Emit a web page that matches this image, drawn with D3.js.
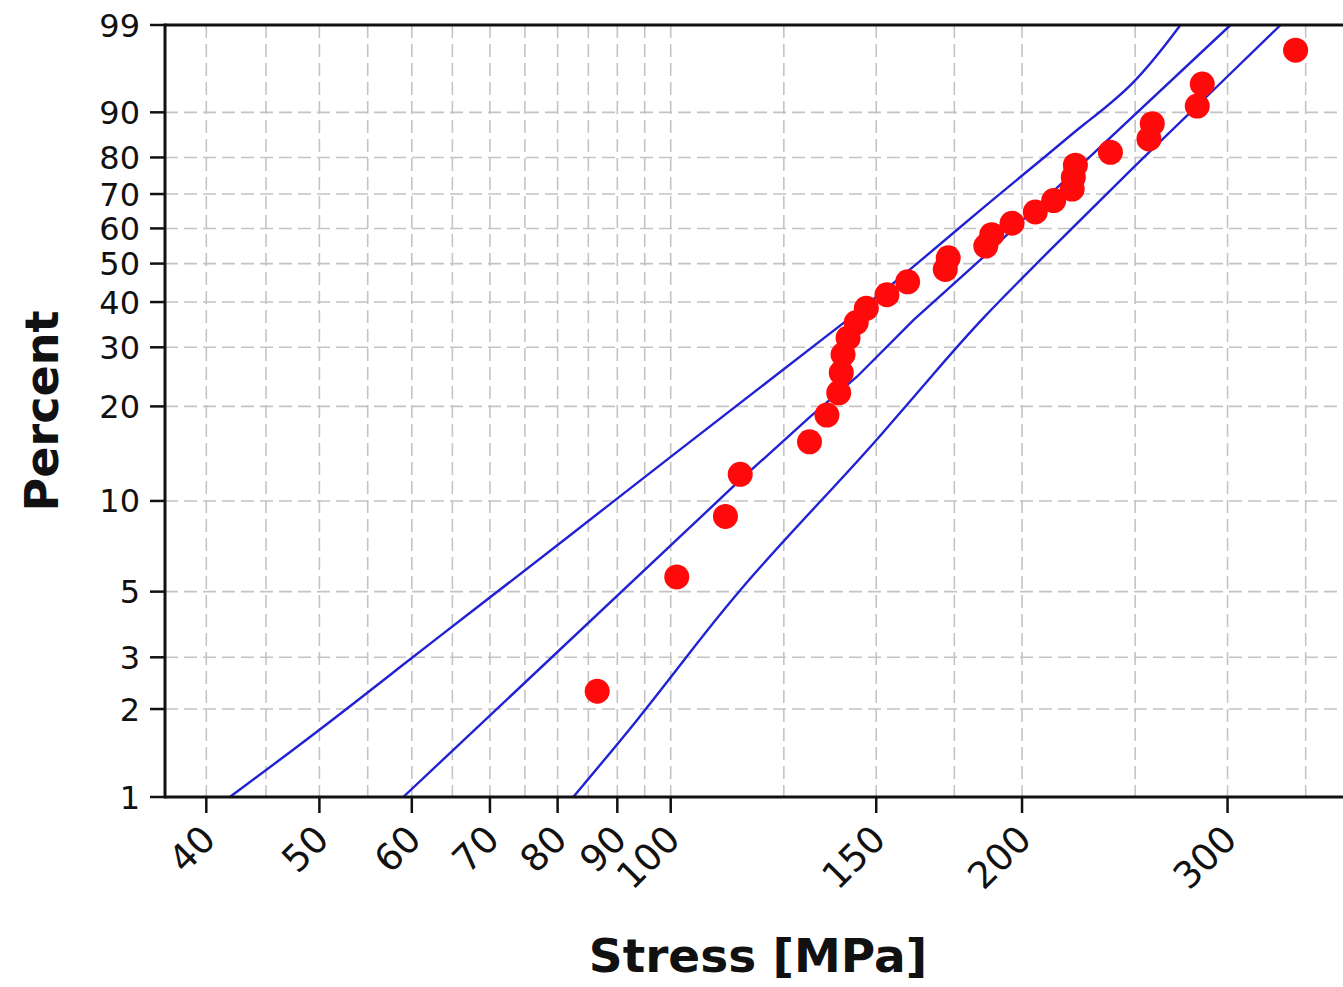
<!DOCTYPE html>
<html>
<head>
<meta charset="utf-8">
<script src="https://cdn.jsdelivr.net/npm/d3@7/dist/d3.min.js"></script>
<style>
  html, body { margin: 0; padding: 0; background: #ffffff; }
  svg { display: block; }
</style>
</head>
<body>
<svg id="chart" width="1343" height="987"></svg>
<script>
// ---------------- data ----------------
// observed failure stresses [MPa] and their plotting positions [%]
const pointStress  = [86.5, 101.2, 111.4, 114.7, 131.5, 136.1, 139.3, 140.0, 140.5, 141.9,
                      144.2, 147.1, 153.2, 159.6, 171.9, 172.9, 186.2, 188.4, 196.1, 205.3,
                      212.9, 220.8, 221.3, 222.2, 238.1, 256.9, 258.6, 282.6, 285.4, 343.1];
const pointPercent = [2.3, 5.6, 8.9, 12.2, 15.5, 18.8, 22.0, 25.3, 28.6, 31.9,
                      35.2, 38.5, 41.8, 45.1, 48.4, 51.6, 54.9, 58.2, 61.5, 64.8,
                      68.1, 71.4, 74.7, 78.0, 81.3, 84.5, 87.8, 91.1, 94.4, 97.7];

// fitted Weibull line
const fitStress  = [59.0, 114.7, 131.7, 144.4, 161.5, 184.2, 230.4, 301.8];
const fitPercent = [1, 11.7, 18.6, 24.6, 35.8, 51.0, 81.1, 99];

// upper (left) confidence bound
const upperStress  = [41.9, 50.1, 60.2, 66.4, 80.4, 101.2, 121.7, 140.7, 160.5, 185.4, 212.9, 224.4, 249.4, 273.4];
const upperPercent = [1, 1.70, 3.02, 4.07, 7.26, 14.4, 24.1, 35.1, 48.3, 66.3, 81.9, 87.2, 94.1, 99];

// lower (right) confidence bound
const lowerStress  = [82.5, 94.2, 103.2, 116.2, 139.8, 150.2, 169.1, 184.2, 210.1, 247.7, 295.9, 333.1];
const lowerPercent = [1, 1.88, 3.02, 5.47, 11.7, 15.7, 25.8, 35.8, 52.9, 76.7, 94.5, 99];

// axes
const xTickValues  = [40, 50, 60, 70, 80, 90, 100, 150, 200, 300];
const xGridValues  = [40, 45, 50, 55, 60, 65, 70, 75, 80, 85, 90, 95, 100, 125, 150, 175, 200, 250, 300, 350];
const yTickValues  = [1, 2, 3, 5, 10, 20, 30, 40, 50, 60, 70, 80, 90, 99];
const xTitle = "Stress [MPa]";
const yTitle = "Percent";

// ---------------- layout ----------------
const svg = d3.select("#chart");
const W = 1343, H = 987;
const plot = { left: 165, top: 25, bottom: 797, right: 1352 };

const x = d3.scaleLog().domain([36.87, 383.5]).range([plot.left, plot.right]);
const weib = p => Math.log(-Math.log(1 - p / 100));
const yLin = d3.scaleLinear().domain([weib(1), weib(99)]).range([plot.bottom, plot.top]);
const y = p => yLin(weib(p));

svg.append("rect").attr("width", W).attr("height", H).attr("fill", "#ffffff");

const FONT = "'DejaVu Sans', Verdana, sans-serif";

// grid
const grid = svg.append("g");
grid.selectAll("line.vg").data(xGridValues).join("line")
  .attr("x1", d => x(d)).attr("x2", d => x(d))
  .attr("y1", plot.top).attr("y2", plot.bottom)
  .attr("stroke", "#c4c4c4").attr("stroke-width", 1.6)
  .attr("stroke-dasharray", "13,6");
grid.selectAll("line.hg").data(yTickValues.filter(v => v !== 1 && v !== 99)).join("line")
  .attr("x1", plot.left).attr("x2", plot.right)
  .attr("y1", d => y(d)).attr("y2", d => y(d))
  .attr("stroke", "#c4c4c4").attr("stroke-width", 1.6)
  .attr("stroke-dasharray", "13,6");

// lines
const line = d3.line().curve(d3.curveBasis).x(d => x(d[0])).y(d => y(d[1]));
const fitLine = d3.line().x(d => x(d[0])).y(d => y(d[1]));
const zip = (a, b) => a.map((v, i) => [v, b[i]]);
const lineColor = "#2222d4";
svg.append("path").datum(zip(upperStress, upperPercent)).attr("d", line)
  .attr("fill", "none").attr("stroke", lineColor).attr("stroke-width", 2.4);
svg.append("path").datum(zip(fitStress, fitPercent)).attr("d", fitLine)
  .attr("fill", "none").attr("stroke", lineColor).attr("stroke-width", 2.4);
svg.append("path").datum(zip(lowerStress, lowerPercent)).attr("d", line)
  .attr("fill", "none").attr("stroke", lineColor).attr("stroke-width", 2.4);

// points
svg.append("g").selectAll("circle").data(zip(pointStress, pointPercent)).join("circle")
  .attr("cx", d => x(d[0])).attr("cy", d => y(d[1])).attr("r", 12.5)
  .attr("fill", "#ff0a0a");

// frame
svg.append("line").attr("x1", plot.left).attr("x2", plot.left).attr("y1", plot.top - 1.5).attr("y2", plot.bottom + 1.5)
  .attr("stroke", "#111").attr("stroke-width", 3);
svg.append("line").attr("x1", plot.left).attr("x2", plot.right).attr("y1", plot.top).attr("y2", plot.top)
  .attr("stroke", "#111").attr("stroke-width", 3);
svg.append("line").attr("x1", plot.left).attr("x2", plot.right).attr("y1", plot.bottom).attr("y2", plot.bottom)
  .attr("stroke", "#111").attr("stroke-width", 3);

// y axis ticks + labels
const yAx = svg.append("g");
yAx.selectAll("line").data(yTickValues).join("line")
  .attr("x1", plot.left - 15).attr("x2", plot.left)
  .attr("y1", d => y(d)).attr("y2", d => y(d))
  .attr("stroke", "#111").attr("stroke-width", 2.5);
yAx.selectAll("text").data(yTickValues).join("text")
  .attr("x", plot.left - 25).attr("y", d => y(d)).attr("dy", "0.36em")
  .attr("text-anchor", "end").attr("font-family", FONT).attr("font-size", 32)
  .attr("fill", "#111").text(d => d);

// x axis ticks + labels
const xAx = svg.append("g");
xAx.selectAll("line").data(xTickValues).join("line")
  .attr("x1", d => x(d)).attr("x2", d => x(d))
  .attr("y1", plot.bottom).attr("y2", plot.bottom + 16)
  .attr("stroke", "#111").attr("stroke-width", 2.5);
xAx.selectAll("text").data(xTickValues).join("text")
  .attr("transform", d => `translate(${x(d) + 2},${plot.bottom + 35}) rotate(-45)`)
  .attr("dy", "0.36em")
  .attr("text-anchor", "end").attr("font-family", FONT).attr("font-size", 37)
  .attr("fill", "#111").text(d => d);

// titles
svg.append("text").attr("x", 758).attr("y", 972).attr("text-anchor", "middle")
  .attr("font-family", FONT).attr("font-weight", "bold").attr("font-size", 47)
  .attr("fill", "#111").text(xTitle);
svg.append("text").attr("transform", "translate(58,411) rotate(-90)").attr("text-anchor", "middle")
  .attr("font-family", FONT).attr("font-weight", "bold").attr("font-size", 46)
  .attr("fill", "#111").text(yTitle);
</script>
</body>
</html>
